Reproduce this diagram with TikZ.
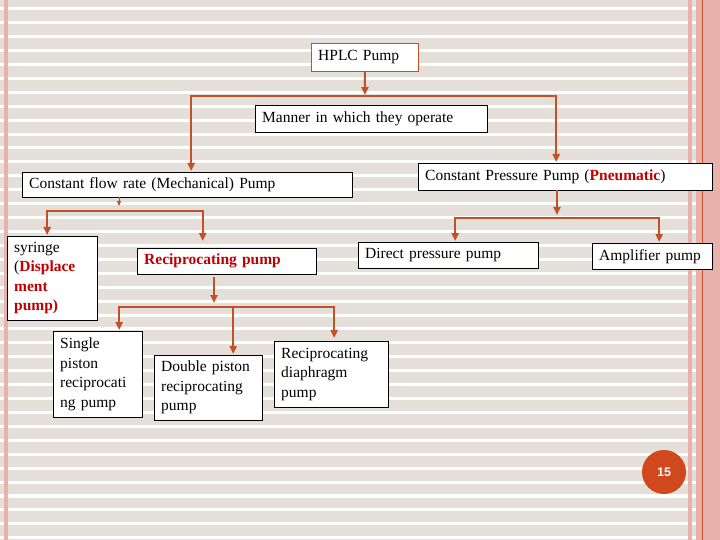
\documentclass[tikz,border=0pt]{standalone}
\usepackage{fontspec}
\setmainfont{Liberation Serif}
\newfontfamily\numfont{Liberation Sans}
\usetikzlibrary{arrows.meta, positioning}
\definecolor{linkred}{RGB}{196,80,40}
\definecolor{txtred}{RGB}{192,0,0}
\definecolor{stripe}{RGB}{228,223,216}
\definecolor{edgepink}{RGB}{231,178,172}
\definecolor{badge}{RGB}{208,72,30}
\newcommand{\redbf}[1]{\textcolor{txtred}{\textbf{#1}}}
\tikzset{
        x=1pt, y=-1pt, % pixel-like units, y grows downwards
        >={Triangle[width=7pt,length=8pt]}, % solid arrow heads
    }
\tikzset{
      pump box/.style 2 args={
		draw=black,
		fill=white,
		anchor=north west,
		inner xsep=7pt,
		inner ysep=2pt,
		align=left,
		text width=#1,
		minimum height=#2,
		font=\fontsize{15.5}{19.5}\selectfont,
	  },
  		link/.style={
    	->, draw=linkred, line width=2pt, shorten >=1pt,
      },
  	}

\begin{document}
\begin{tikzpicture}
    \useasboundingbox (0,0) rectangle (720,540);
    \fill[white] (0,0) rectangle (720,540);
    \foreach \k in {-1,...,38}
      \fill[stripe] (0,{10.3+13.92*\k}) rectangle (696,{21.2+13.92*\k});
    \fill[edgepink] (4,0) rectangle (8,540);
    \fill[edgepink] (688,0) rectangle (692,540);
    \fill[edgepink] (696,0) rectangle (720,540);
    \draw[linkred, line width=1pt] (702.5,0) -- (702.5,540);

    \node [pump box={93pt}{28pt}, draw=linkred] (hplc) at (311,43) {HPLC Pump};
    \node [pump box={218pt}{27pt}] (manner) at (255,105) {Manner in which they operate};
    \node [pump box={316pt}{25pt}] (flow) at (22,172) {Constant flow rate (Mechanical) Pump};
    \node [pump box={280pt}{27pt}] (press) at (418,163) {Constant Pressure Pump (\redbf{Pneumatic})};
    \node [pump box={76pt}{84pt}] (syringe) at (7,236) {syringe\\(\redbf{Displace}\\\redbf{ment}\\\redbf{pump)}};
    \node [pump box={165pt}{26pt}] (recip) at (137,248) {\redbf{Reciprocating pump}};
    \node [pump box={166pt}{26pt}] (direct) at (358,242) {Direct pressure pump};
    \node [pump box={106pt}{26pt}] (amp) at (592,243) {Amplifier pump};
    \node [pump box={75pt}{86pt}] (single) at (53,331) {Single\\piston\\reciprocati\\ng pump};
    \node [pump box={94pt}{65pt}] (double) at (154,355) {Double piston\\reciprocating\\pump};
    \node [pump box={100pt}{66pt}] (diaph) at (274,341) {Reciprocating\\diaphragm\\pump};

    \coordinate (fork1) at (365,96);
    \coordinate (fork2) at (119,211);
    \coordinate (fork3) at (214,307);
    \coordinate (fork4) at (557,218);
    \coordinate (flowtip) at (119,207);

    \draw[link] (hplc) -- (fork1);
    \draw[link] (fork1) -| ([xshift=4pt]flow.north);
    \draw[link] (fork1) -| ([xshift=-9pt]press.north);
    \draw[link, line width=0.8pt, >={Triangle[width=4pt,length=5pt]}] (flow.south -| flowtip) -- (flowtip);
    \draw[link] (fork2) -| ([xshift=-5pt]syringe.north);
    \draw[link, shorten >=7pt] (fork2) -| ([xshift=-24pt]recip.north);
    \draw[link, shorten <=3pt, shorten >=4pt] (recip.south -| fork3) -- (fork3);
    \draw[link] (fork3) -| ([xshift=21.5pt]single.north);
    \draw[link] (fork3) -| ([xshift=25pt]double.north);
    \draw[link, shorten >=3pt] (fork3) -| ([xshift=3pt]diaph.north);
    \draw[link, shorten >=3pt] (press.south -| fork4) -- (fork4);
    \draw[link] (fork4) -| ([xshift=7pt]direct.north);
    \draw[link] (fork4) -| ([xshift=7pt]amp.north);

    \node [circle, fill=badge, minimum size=44pt, text=white, font=\numfont\bfseries\fontsize{12.5}{14}\selectfont] (page) at (664,472) {15};
\end{tikzpicture}
\end{document}
